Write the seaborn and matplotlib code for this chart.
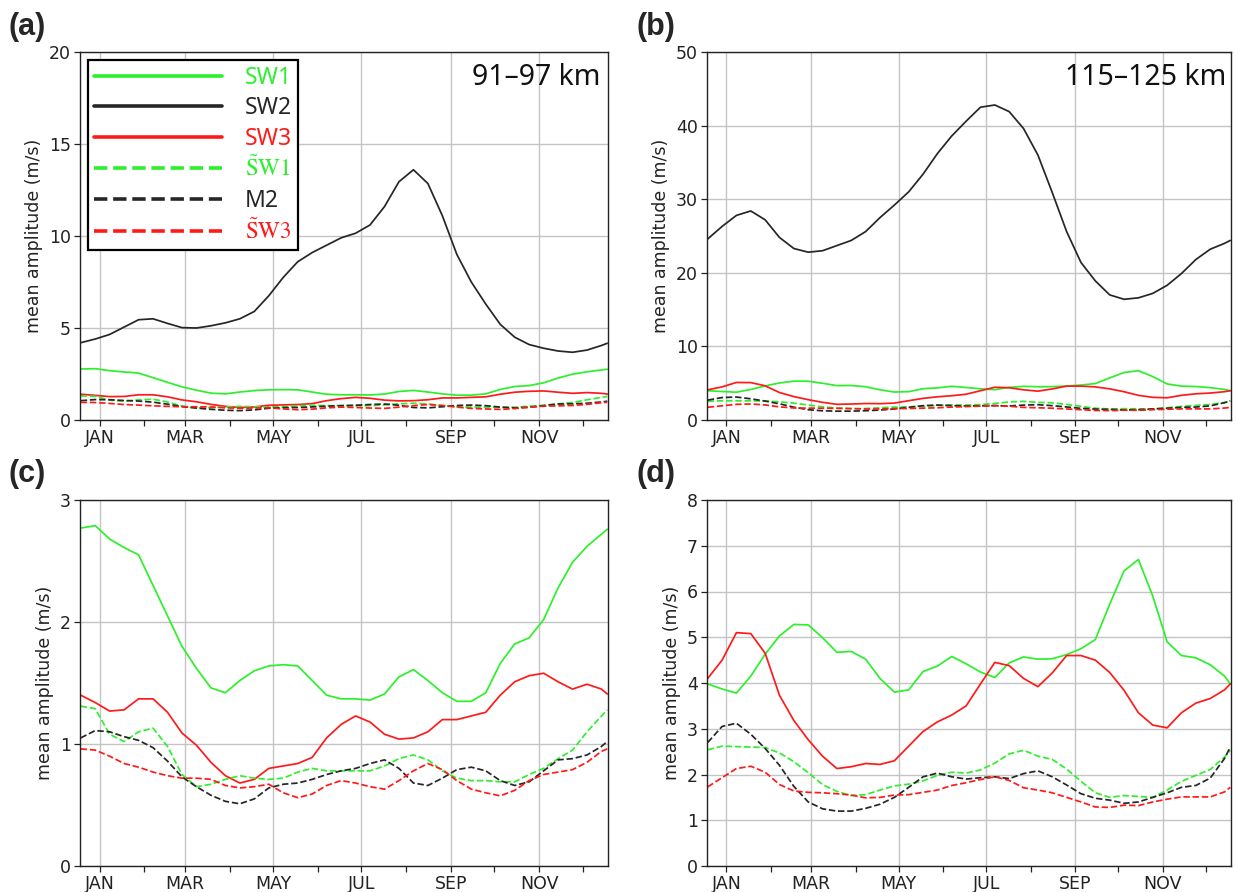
import numpy as np
import pandas as pd
import matplotlib
matplotlib.use("Agg")
import matplotlib.pyplot as plt
from matplotlib.lines import Line2D
import seaborn as sns

sns.set_style("ticks")
plt.rcParams["font.family"] = ["DejaVu Sans"]
plt.rcParams["mathtext.fontset"] = "stix"

# day of year for each sample
days = list(range(2, 363, 10)) + [366]

# ---- 91-97 km layer (panels a and c) ----
sw1_low = [2.77, 2.79, 2.68, 2.61, 2.55, 2.30, 2.05, 1.80, 1.62, 1.46, 1.42, 1.52, 1.60,
           1.64, 1.65, 1.64, 1.52, 1.40, 1.37, 1.37, 1.36, 1.41, 1.55, 1.61, 1.52, 1.42,
           1.35, 1.35, 1.42, 1.66, 1.82, 1.87, 2.02, 2.28, 2.49, 2.62, 2.72, 2.76]
sw2_low = [4.20, 4.40, 4.65, 5.05, 5.45, 5.50, 5.25, 5.02, 5.00, 5.12, 5.28, 5.50, 5.90,
           6.75, 7.75, 8.60, 9.10, 9.50, 9.90, 10.15, 10.60, 11.60, 12.95, 13.60, 12.85,
           11.10, 9.00, 7.50, 6.30, 5.20, 4.50, 4.10, 3.90, 3.75, 3.68, 3.80, 4.05, 4.17]
sw3_low = [1.40, 1.34, 1.27, 1.28, 1.37, 1.37, 1.26, 1.09, 0.99, 0.85, 0.74, 0.68, 0.71,
           0.80, 0.82, 0.84, 0.89, 1.05, 1.16, 1.23, 1.18, 1.08, 1.04, 1.05, 1.10, 1.20,
           1.20, 1.23, 1.26, 1.40, 1.51, 1.56, 1.58, 1.51, 1.45, 1.49, 1.45, 1.41]
sw1t_low = [1.31, 1.29, 1.08, 1.02, 1.10, 1.13, 0.98, 0.75, 0.65, 0.67, 0.71, 0.74, 0.72,
            0.71, 0.72, 0.77, 0.80, 0.78, 0.78, 0.78, 0.78, 0.82, 0.88, 0.91, 0.87, 0.78,
            0.72, 0.70, 0.70, 0.69, 0.69, 0.75, 0.80, 0.88, 0.95, 1.10, 1.23, 1.28]
m2_low = [1.05, 1.11, 1.10, 1.06, 1.03, 0.97, 0.86, 0.73, 0.65, 0.58, 0.53, 0.51, 0.55,
          0.64, 0.67, 0.68, 0.71, 0.75, 0.78, 0.80, 0.84, 0.87, 0.80, 0.68, 0.66, 0.72,
          0.79, 0.81, 0.78, 0.70, 0.66, 0.69, 0.78, 0.87, 0.88, 0.91, 0.98, 1.02]
sw3t_low = [0.96, 0.95, 0.90, 0.84, 0.81, 0.77, 0.74, 0.72, 0.72, 0.71, 0.66, 0.64, 0.65,
            0.67, 0.60, 0.56, 0.59, 0.66, 0.70, 0.68, 0.65, 0.63, 0.70, 0.78, 0.84, 0.79,
            0.70, 0.63, 0.60, 0.575, 0.62, 0.70, 0.75, 0.77, 0.79, 0.85, 0.94, 0.96]

# ---- 115-125 km layer (panels b and d) ----
sw1_high = [3.98, 3.87, 3.78, 4.15, 4.63, 5.03, 5.28, 5.27, 4.99, 4.67, 4.69, 4.52, 4.10,
            3.80, 3.85, 4.25, 4.37, 4.58, 4.42, 4.24, 4.12, 4.44, 4.57, 4.52, 4.53, 4.62,
            4.75, 4.95, 5.72, 6.45, 6.70, 5.90, 4.90, 4.60, 4.55, 4.40, 4.15, 3.98]
sw2_high = [24.6, 26.3, 27.8, 28.4, 27.2, 24.8, 23.3, 22.8, 23.0, 23.7, 24.4, 25.6, 27.5,
            29.2, 31.0, 33.4, 36.2, 38.6, 40.6, 42.5, 42.8, 41.9, 39.6, 36.0, 30.9, 25.6,
            21.4, 18.9, 17.0, 16.4, 16.6, 17.2, 18.3, 19.9, 21.8, 23.2, 24.0, 24.4]
sw3_high = [4.10, 4.50, 5.10, 5.08, 4.65, 3.73, 3.18, 2.76, 2.40, 2.13, 2.17, 2.24, 2.22,
            2.30, 2.62, 2.94, 3.15, 3.30, 3.50, 3.98, 4.45, 4.38, 4.10, 3.92, 4.22, 4.60,
            4.60, 4.50, 4.23, 3.84, 3.35, 3.08, 3.02, 3.35, 3.56, 3.66, 3.85, 3.98]
sw1t_high = [2.54, 2.62, 2.61, 2.60, 2.59, 2.47, 2.28, 2.04, 1.78, 1.63, 1.54, 1.56, 1.66,
             1.75, 1.79, 1.86, 1.98, 2.05, 2.03, 2.10, 2.25, 2.45, 2.53, 2.40, 2.33, 2.12,
             1.85, 1.60, 1.50, 1.54, 1.52, 1.50, 1.66, 1.85, 1.98, 2.11, 2.38, 2.53]
m2_high = [2.70, 3.05, 3.12, 2.88, 2.57, 2.20, 1.74, 1.40, 1.25, 1.20, 1.20, 1.26, 1.35,
           1.50, 1.72, 1.95, 2.03, 1.95, 1.90, 1.93, 1.95, 1.91, 2.02, 2.08, 1.95, 1.77,
           1.58, 1.48, 1.44, 1.37, 1.40, 1.50, 1.60, 1.72, 1.76, 1.92, 2.35, 2.60]
sw3t_high = [1.73, 1.93, 2.13, 2.18, 2.05, 1.78, 1.64, 1.61, 1.60, 1.58, 1.55, 1.49, 1.50,
             1.55, 1.56, 1.61, 1.66, 1.76, 1.82, 1.89, 1.95, 1.87, 1.71, 1.66, 1.60, 1.50,
             1.40, 1.29, 1.28, 1.33, 1.32, 1.40, 1.46, 1.51, 1.51, 1.51, 1.62, 1.72]

series_names = ["SW1", "SW2", "SW3", r"$\tilde{\mathrm{S}}\mathrm{W}1$", "M2",
                r"$\tilde{\mathrm{S}}\mathrm{W}3$"]
low_layer = [sw1_low, sw2_low, sw3_low, sw1t_low, m2_low, sw3t_low]
high_layer = [sw1_high, sw2_high, sw3_high, sw1t_high, m2_high, sw3t_high]

month_mid = [15, 46, 74, 105, 135, 166, 196, 227, 258, 288, 319, 349]
month_labels = ["JAN", "FEB", "MAR", "APR", "MAY", "JUN",
                "JUL", "AUG", "SEP", "OCT", "NOV", "DEC"]

GREEN = "#2cf02c"
RED = "#ff1a1a"
DARK = "#262626"
colors = [GREEN, DARK, RED, GREEN, DARK, RED]
styles = ["-", "-", "-", "--", "--", "--"]

W, H = 1236, 892
fig = plt.figure(figsize=(W / 100, H / 100), dpi=100)


def make_axes(px_left, px_right, px_top, px_bottom):
    return fig.add_axes([px_left / W, 1 - px_bottom / H,
                         (px_right - px_left) / W, (px_bottom - px_top) / H])


ax_a = make_axes(80, 608, 52, 420)
ax_b = make_axes(707, 1231, 52, 420)
ax_c = make_axes(80, 608, 500, 866)
ax_d = make_axes(707, 1231, 500, 866)


def draw_panel(ax, layer, ymax, ystep):
    for vals, col, ls in zip(layer, colors, styles):
        df = pd.DataFrame({"day": days, "amp": vals})
        sns.lineplot(data=df, x="day", y="amp", ax=ax, color=col,
                     linestyle=ls, linewidth=1.25, legend=False,
                     solid_joinstyle="round", dash_joinstyle="round")
    ax.set_xlim(1.5, 366.5)
    ax.set_ylim(0, ymax)
    ax.set_yticks(np.arange(0, ymax + 0.001, ystep))
    ax.set_xticks(month_mid[::2])
    ax.set_xticklabels(month_labels[::2])
    ax.set_xticks(month_mid[1::2], minor=True)
    ax.set_xlabel("")
    ax.set_ylabel("mean amplitude (m/s)", fontsize=12.5, color="#222222", labelpad=4)
    ax.grid(True, which="major", color="#c4c4c4", linewidth=1.0)
    ax.set_axisbelow(True)
    ax.tick_params(axis="both", which="major", labelsize=12.5, colors="#222222",
                   length=4, width=0.9, direction="out", pad=2.5)
    ax.tick_params(axis="x", which="minor", length=4, width=0.9, color="#222222")
    for sp in ax.spines.values():
        sp.set_visible(True)
        sp.set_color("#222222")
        sp.set_linewidth(1.0)


draw_panel(ax_a, low_layer, 20, 5)
draw_panel(ax_b, high_layer, 50, 10)
draw_panel(ax_c, low_layer, 3, 1)
draw_panel(ax_d, high_layer, 8, 1)

ax_a.text(0.985, 0.93, "91\u201397 km", transform=ax_a.transAxes, ha="right",
          va="center", fontsize=20.5, family="Noto Sans", color="#111111")
ax_b.text(0.99, 0.93, "115\u2013125 km", transform=ax_b.transAxes, ha="right",
          va="center", fontsize=20.5, family="Noto Sans", color="#111111")

handles = [Line2D([], [], color=c, linestyle=s, linewidth=2.6)
           for c, s in zip(colors, styles)]
leg = ax_a.legend(handles, series_names, loc="upper left",
                  handlelength=5.6, handletextpad=1.0, labelspacing=0.28,
                  borderpad=0.25, borderaxespad=0.35, frameon=True, fancybox=False,
                  labelcolor=colors, prop={"family": "Noto Sans", "size": 16.5})
leg.get_frame().set_edgecolor("black")
leg.get_frame().set_linewidth(1.6)
leg.get_frame().set_alpha(1.0)

for lab, xp, yp in [("(a)", 8, 27), ("(b)", 636, 27), ("(c)", 8, 474), ("(d)", 636, 474)]:
    fig.text(xp / W, 1 - yp / H, lab, fontsize=22, fontweight="bold",
             family="Liberation Sans", va="center", ha="left")

fig.savefig("out.png", dpi=100)
